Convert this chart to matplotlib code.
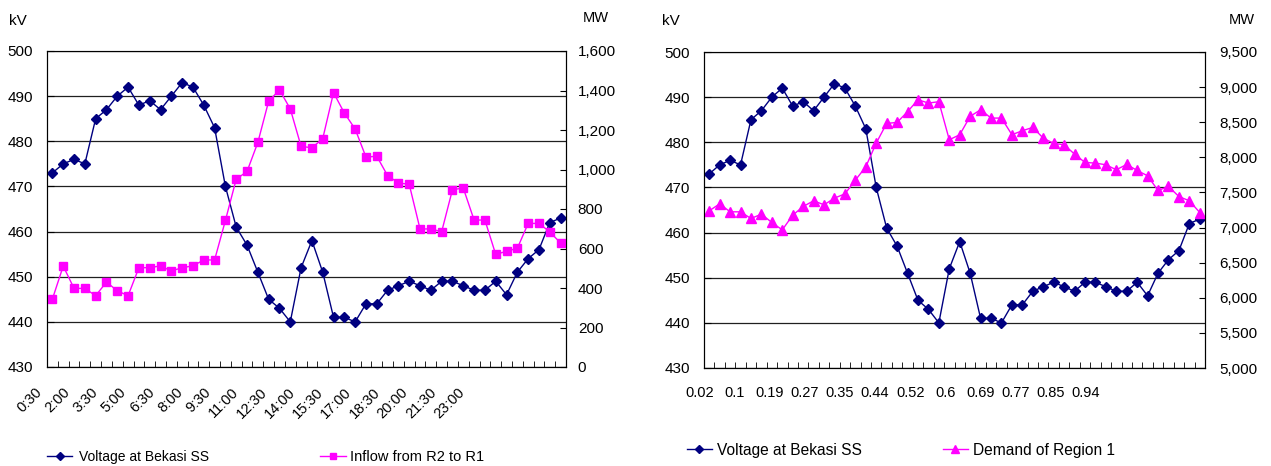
import matplotlib
matplotlib.use('Agg')
import matplotlib.pyplot as plt
from matplotlib.lines import Line2D
from matplotlib.ticker import FuncFormatter
import numpy as np

plt.rcParams.update({
    'font.family': ['Liberation Sans', 'DejaVu Sans'],
    'font.size': 10,
})

# ─── Data (48 half-hour samples) ──────────────────────────────

voltage = [473, 475, 476, 475, 485, 487, 490, 492, 488, 489, 487, 490,
           493, 492, 488, 483, 470, 461, 457, 451, 445, 443, 440, 452,
           458, 451, 441, 441, 440, 444, 444, 447, 448, 449, 448, 447,
           449, 449, 448, 447, 447, 449, 446, 451, 454, 456, 462, 463]

inflow = [344, 511, 398, 398, 361, 430, 386, 361, 503, 503, 512, 486,
          503, 512, 542, 542, 742, 951, 990, 1137, 1346, 1403, 1307, 1117,
          1110, 1156, 1389, 1286, 1205, 1063, 1067, 969, 932, 925, 699, 699,
          685, 898, 906, 744, 744, 570, 586, 601, 727, 727, 684, 628]

demand = [7238, 7338, 7224, 7224, 7129, 7191, 7072, 6967, 7176, 7300, 7381, 7324,
          7419, 7480, 7675, 7865, 8203, 8483, 8497, 8650, 8820, 8773, 8792, 8250,
          8322, 8583, 8678, 8559, 8559, 8322, 8379, 8426, 8274, 8198, 8179, 8046,
          7927, 7918, 7894, 7823, 7899, 7813, 7737, 7528, 7585, 7442, 7381, 7214]

time_labels = ['0:30', '2:00', '3:30', '5:00', '6:30', '8:00', '9:30', '11:00',
               '12:30', '14:00', '15:30', '17:00', '18:30', '20:00', '21:30', '23:00']
frac_labels = ['0.02', '0.1', '0.19', '0.27', '0.35', '0.44', '0.52', '0.6',
               '0.69', '0.77', '0.85', '0.94']

kv_ticks = [430, 440, 450, 460, 470, 480, 490, 500]
inflow_ticks = [0, 200, 400, 600, 800, 1000, 1200, 1400, 1600]
demand_ticks = [5000, 5500, 6000, 6500, 7000, 7500, 8000, 8500, 9000, 9500]

NAVY = '#000080'
MAGENTA = '#FF00FF'
n = len(voltage)
x = np.arange(n)

fig = plt.figure(figsize=(12.71, 4.66), dpi=100)
W, H = 1271, 466


def px_axes(l, t, r, b):
    return fig.add_axes([l / W, 1 - b / H, (r - l) / W, (b - t) / H])


thousands = FuncFormatter(lambda v, p: f'{int(v):,}')


def setup(ax, ax2, y2ticks, rpad):
    ax.set_yticks(kv_ticks)
    ax.set_ylim(430, 500)
    ax.yaxis.grid(True, color='#202020', lw=0.9)
    ax.set_axisbelow(True)
    ax.spines['top'].set_color('#808080')
    ax.tick_params(axis='y', direction='in', length=5, pad=10, labelsize=11)
    ax.set_xticks([])
    ax.set_xticks(np.arange(-0.5, n, 1.0), minor=True)
    ax.set_xlim(-0.5, n - 0.5)
    ax.tick_params(axis='x', which='minor', direction='in', length=4)
    ax2.set_yticks(y2ticks)
    ax2.set_ylim(y2ticks[0], y2ticks[-1])
    ax2.yaxis.set_major_formatter(thousands)
    ax2.tick_params(axis='y', direction='in', length=4, pad=rpad, labelsize=11)


def cat_labels(ax, positions, labels, dy, **kw):
    # the source chart spreads its category labels unevenly vs the data points
    trans = ax.get_xaxis_transform()
    for p, s in zip(positions, labels):
        ax.annotate(s, xy=(p, 0), xycoords=trans, xytext=(0, dy),
                    textcoords='offset points', annotation_clip=False,
                    fontsize=10.5, **kw)


# Left chart: voltage vs inflow
axL = px_axes(47, 51, 566, 367)
axL2 = axL.twinx()
setup(axL, axL2, inflow_ticks, 8.5)
cat_labels(axL, np.linspace(-1.2, 37.9, len(time_labels)), time_labels, -16.5,
           rotation=45, ha='right', va='center', rotation_mode='anchor')
axL.plot(x, voltage, color=NAVY, lw=1, marker='D', ms=5, zorder=3)
axL2.plot(x, inflow, color=MAGENTA, lw=1, marker='s', ms=5.5, zorder=2)

# Right chart: voltage vs demand
axR = px_axes(704, 52, 1205, 368)
axR2 = axR.twinx()
setup(axR, axR2, demand_ticks, 10)
cat_labels(axR, np.linspace(-0.96, 36.09, len(frac_labels)), frac_labels, -13,
           ha='center', va='top')
axR.plot(x, voltage, color=NAVY, lw=1, marker='D', ms=5, zorder=3)
axR2.plot(x, demand, color=MAGENTA, lw=1, marker='^', ms=6.5, zorder=2)

# unit labels
fig.text(9 / W, 1 - 21 / H, 'kV', fontsize=11, va='center', ha='left')
fig.text(596 / W, 1 - 17.5 / H, 'MW', fontsize=10.5, va='center', ha='center')
fig.text(662 / W, 1 - 21 / H, 'kV', fontsize=11, va='center', ha='left')
fig.text(1242 / W, 1 - 20 / H, 'MW', fontsize=10.5, va='center', ha='center')


# legends below each chart
def entry(label, color, marker, ms, xpx, ypx, fs, hl, tp):
    h = Line2D([], [], color=color, lw=1, marker=marker, ms=ms)
    fig.legend([h], [label], loc='center left', bbox_to_anchor=(xpx / W, 1 - ypx / H),
               frameon=False, fontsize=fs, handlelength=hl, handletextpad=tp,
               borderpad=0, borderaxespad=0)


entry('Voltage at Bekasi SS', NAVY, 'D', 4, 47, 457, 10, 1.8, 0.5)
entry('Inflow from R2 to R1', MAGENTA, 's', 4.5, 320, 457, 10.5, 1.75, 0.3)
entry('Voltage at Bekasi SS', NAVY, 'D', 4.5, 687, 450, 11.2, 1.6, 0.35)
entry('Demand of Region 1', MAGENTA, '^', 5.5, 943, 450, 11.2, 1.6, 0.35)

fig.savefig('out.png', dpi=100)
